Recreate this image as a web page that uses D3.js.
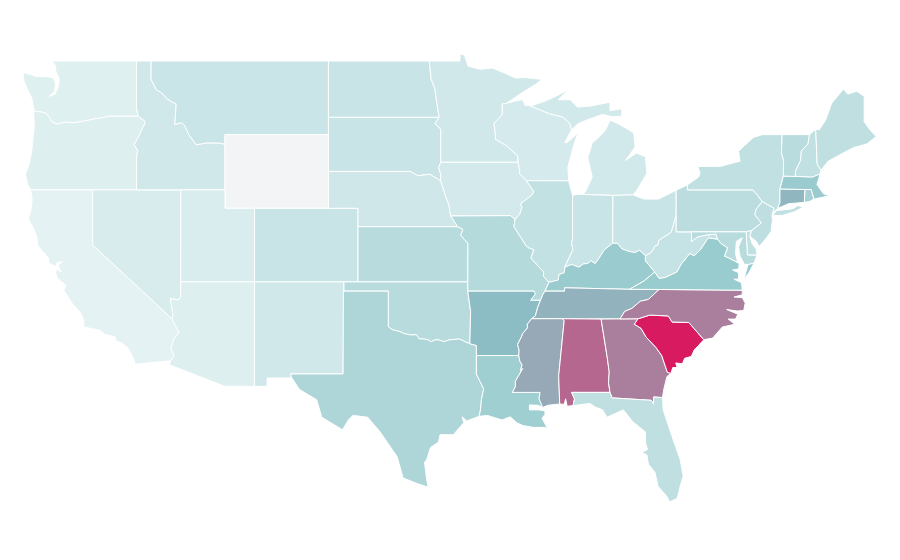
<!DOCTYPE html>
<html>
<head>
<meta charset="utf-8">
<script src="https://cdn.jsdelivr.net/npm/d3@7"></script>
<style>
    html, body { margin: 0; background: #fff; }
</style>
</head>
<body>
<div id="map"></div>
<script>
// state values
const stateIds = ["WA","OR","CA","NV","ID","MT","WY","UT","AZ","CO","NM","ND","SD","NE","KS","OK","TX","MN","IA","MO","AR","LA","WI","IL","MI","IN","OH","KY","TN","MS","AL","GA","FL","SC","NC","VA","WV","PA","NY","NJ","DE","MD","CT","RI","MA","VT","NH","ME"];
const stateValues = [2.4,2.7,1.4,3.9,5.3,6.8,0,3.5,2.7,7,5.5,7.2,7,5.8,10.5,10.5,12.6,5.5,4.9,11.3,23.2,15.5,4.5,8.4,5.1,7,7,17,28,33.3,64,53,9,100,53,16.9,7.8,9.9,8.8,9.3,8.8,10.5,26.6,14.2,17,10.3,8.8,9];

// colour ramp
const colorStops = [0, 1, 20, 100];
const colorRange = ["#f3f4f6", "#e6f3f4", "#8ac4c8", "#d81b60"];

// shared borders, [lon, lat]
const columbia = [[-124,46.27],[-123.4,46.22],[-123.15,46.15],[-122.9,45.9],[-122.78,45.7],[-122.4,45.57],[-121.9,45.68],[-121.2,45.65],[-120.6,45.74],[-119.9,45.85],[-119.3,45.93],[-118.98,46],[-116.92,46]];
const hellsCanyon = [[-116.92,46],[-116.5,45.75],[-116.46,45.6],[-116.7,45.25],[-116.85,44.95],[-117.2,44.45],[-117.03,44.25],[-116.95,44.1],[-117.03,43.85],[-117.03,42]];
const idMontana = [[-116.05,49],[-116.05,48],[-115.7,47.45],[-115.3,47.25],[-114.95,46.93],[-114.35,46.65],[-114.45,45.55],[-114,45.65],[-113.8,45.52],[-113.45,44.95],[-113,44.45],[-112.3,44.55],[-111.5,44.55],[-111.05,44.48]];
const coloradoCa = [[-114.72,32.72],[-114.5,33],[-114.7,33.4],[-114.5,33.9],[-114.15,34.27],[-114.4,34.6],[-114.63,35]];
const coloradoNv = [[-114.63,35],[-114.57,35.2],[-114.75,36.1],[-114.2,36.02],[-114.05,36.2],[-114.05,37]];
const redRiverN = [[-97.23,49],[-97.1,48],[-96.85,47.5],[-96.75,46.9],[-96.56,45.94]];
const sdMinn = [[-96.56,45.94],[-96.85,45.6],[-96.45,45.3],[-96.45,43.5]];
const bigSioux = [[-96.45,43.5],[-96.6,43.2],[-96.45,42.85],[-96.45,42.49]];
const niobrara = [[-96.45,42.49],[-97.2,42.85],[-98,42.77],[-98.5,43],[-104.05,43]];
const missouriIa = [[-96.45,42.49],[-96.3,42.1],[-96.1,41.6],[-95.9,41.2],[-95.85,40.9],[-95.77,40.58]];
const missouriMo = [[-95.77,40.58],[-95.55,40.3],[-95.3,40]];
const missouriKs = [[-95.3,40],[-94.95,39.85],[-95.1,39.55],[-94.85,39.3],[-94.61,39.1]];
const redRiverS = [[-100,34.56],[-99.7,34.4],[-99.2,34.3],[-98.95,34.2],[-98.5,34.12],[-98.1,34.13],[-97.9,33.9],[-97.6,33.9],[-97.3,33.85],[-97.1,33.75],[-96.85,33.85],[-96.6,33.85],[-96.2,33.75],[-95.9,33.85],[-95.5,33.88],[-95.2,33.9],[-94.8,33.75],[-94.48,33.64]];
const sabine = [[-94.04,32],[-93.8,31.6],[-93.55,31.2],[-93.7,30.6],[-93.75,30.1],[-93.85,29.7]];
const stCroix = [[-92,46.7],[-92.29,46.66],[-92.29,46.1],[-92.85,45.6],[-92.75,45],[-92.75,44.75],[-92,44.4],[-91.25,43.85],[-91.22,43.5]];
const missWiIa = [[-91.22,43.5],[-91.1,43],[-91.15,42.9],[-90.65,42.5]];
const missIlIa = [[-90.65,42.5],[-90.15,41.9],[-90.3,41.7],[-91.05,41.25],[-90.95,41.05],[-91.1,40.7],[-91.42,40.38]];
const missIlMo = [[-91.42,40.38],[-91.5,40],[-91.1,39.5],[-90.7,39],[-90.55,38.87],[-90.15,38.75],[-90.35,38.3],[-89.9,37.9],[-89.5,37.55],[-89.5,37.3],[-89.13,36.98]];
const missKyMo = [[-89.13,36.98],[-89.4,36.5]];
const missTnMo = [[-89.4,36.5],[-89.55,36.3],[-89.7,36]];
const missTnAr = [[-89.7,36],[-89.9,35.6],[-90.05,35.15],[-90.3,35]];
const missMsAr = [[-90.3,35],[-90.6,34.7],[-90.58,34.5],[-90.9,34.2],[-91,34],[-91.25,33.6],[-91.15,33.3],[-91.17,33]];
const missMsLa = [[-91.17,33],[-91.1,32.7],[-90.95,32.5],[-91.05,32.2],[-90.9,32.3],[-91.4,31.6],[-91.4,31.3],[-91.6,31]];
const pearl = [[-89.73,31],[-89.8,30.65],[-89.55,30.18]];
const wabash = [[-87.53,41.7],[-87.53,39.35],[-87.6,39.1],[-87.5,38.75],[-87.95,38],[-88.05,37.8]];
const ohioIl = [[-89.13,36.98],[-88.5,37.1],[-88.45,37.4],[-88.1,37.5],[-88.05,37.8]];
const ohioIn = [[-88.05,37.8],[-87.6,37.95],[-87.1,37.8],[-86.8,37.98],[-86.5,38],[-86.3,38.15],[-86,38],[-85.75,38.27],[-85.4,38.73],[-84.82,39.1]];
const ohioOh = [[-84.82,39.1],[-84.5,39.1],[-84.2,38.8],[-83.7,38.65],[-83.3,38.6],[-83,38.72],[-82.6,38.42]];
const ohioWv = [[-82.6,38.42],[-82.2,38.6],[-81.95,38.95],[-81.75,39],[-81.7,39.25],[-80.85,39.7],[-80.6,40.4],[-80.52,40.64]];
const kyWv = [[-82.6,38.42],[-82.6,38.15],[-81.97,37.54]];
const kyVa = [[-81.97,37.54],[-82.7,37.05],[-83.68,36.6]];
const tnKy = [[-83.68,36.6],[-88.07,36.68],[-88.07,36.5],[-89.4,36.5]];
const vaWv = [[-81.97,37.54],[-81.68,37.2],[-81.25,37.25],[-80.47,37.55],[-80.2,37.95],[-79.6,38.55],[-79.3,38.42],[-78.87,38.77],[-78.35,39.4],[-77.72,39.32]];
const potomacUp = [[-79.48,39.2],[-79.05,39.45],[-78.45,39.55],[-77.83,39.6],[-77.72,39.32]];
const potomacLow = [[-77.72,39.32],[-77.5,39.1],[-77.04,38.85],[-77.25,38.4],[-76.95,38.3]];
const tnNc = [[-84.32,34.99],[-84,35.4],[-83.5,35.57],[-82.95,35.95],[-82.4,36.05],[-81.68,36.59]];
const ncSc = [[-83.1,35],[-82.3,35.2],[-81.05,35.15],[-80.8,34.82],[-79.67,34.8],[-78.65,33.86]];
const savannah = [[-83.1,35],[-83.35,34.7],[-82.9,34.48],[-82.55,34],[-81.9,33.45],[-81.5,33],[-81.12,32.1],[-80.88,32.03]];
const chattahoochee = [[-85.6,34.98],[-85.18,32.87],[-85.05,32.1],[-85.1,31.55],[-85,31]];
const stMarys = [[-84.86,30.7],[-82.2,30.57],[-82.05,30.36],[-82.05,30.75],[-81.45,30.72]];
const delaware = [[-74.7,41.36],[-75.1,40.95],[-75.2,40.65],[-74.75,40.2],[-75.4,39.8]];
const nyPenn = [[-79.76,42],[-75.35,42],[-75.05,41.75],[-74.7,41.36]];
const nhVt = [[-71.5,45],[-71.6,44.5],[-72.05,44.1],[-72.1,43.6],[-72.45,43],[-72.45,42.73]];

// lake and sea shores
const waSound = [[-122.76,49],[-122.52,48.75],[-122.5,48.45],[-122.25,48],[-122.35,47.55],[-122.55,47.2],[-122.95,47.08],[-122.6,47.35],[-122.5,47.75],[-122.7,48.1],[-123.2,48.15],[-123.9,48.17],[-124.25,48.28],[-124.72,48.38],[-124.65,47.9],[-124.35,47.35],[-124.1,46.95],[-124.05,46.65],[-123.95,46.3]];
const orCoast = [[-124.2,42],[-124.4,42.3],[-124.55,42.85],[-124.3,43.4],[-124.15,44],[-124.05,44.7],[-123.95,45.5],[-124,46.27]];
const caCoast = [[-124.2,42],[-124.1,41.5],[-124.15,41],[-124.35,40.4],[-124.05,40],[-123.8,39.5],[-123.7,38.95],[-123,38.3],[-122.95,38],[-122.5,37.85],[-122.4,38.05],[-122.05,38.1],[-122.35,37.9],[-122.15,37.55],[-122.45,37.7],[-122.5,37.5],[-122.4,37.2],[-122,36.95],[-121.8,36.8],[-121.95,36.55],[-121.4,35.85],[-120.85,35.35],[-120.6,34.9],[-120.6,34.55],[-119.5,34.38],[-119.2,34.15],[-118.5,34.03],[-118.4,33.75],[-118.1,33.72],[-117.6,33.4],[-117.25,32.85],[-117.12,32.53]];
const superiorMn = [[-95.15,49],[-95.15,49.38],[-94.85,49.32],[-94.6,48.72],[-93.8,48.55],[-92.95,48.62],[-92,48.3],[-91.4,48.07],[-90.75,48.1],[-89.6,48],[-90,47.75],[-91,47.25],[-92,46.7]];
const wiShore = [[-92,46.7],[-91.2,46.87],[-90.9,46.9],[-90.75,46.6],[-90.42,46.57]];
const wiUp = [[-90.42,46.57],[-89.1,46.14],[-88.2,45.96],[-87.7,45.6],[-87.6,45.25]];
const wiLake = [[-87.6,45.25],[-87.85,44.9],[-88.05,44.55],[-87.85,44.6],[-87.15,45.1],[-87.3,44.8],[-87.55,44.15],[-87.85,43.25],[-87.8,42.49]];
const upShore = [[-90.42,46.57],[-90.2,46.6],[-89.3,46.85],[-88.5,47.15],[-87.8,47.45],[-88.5,46.9],[-87.7,46.9],[-87.2,46.5],[-86.3,46.55],[-85.4,46.7],[-85,46.75],[-85,46.3],[-84.2,46.4],[-84.2,46],[-84.9,45.98],[-85.5,46.1],[-86.55,45.8],[-87.15,45.6],[-87.6,45.25]];
const lowerMi = [[-86.8,41.76],[-84.8,41.7],[-83.45,41.73],[-83.2,41.95],[-82.5,42.9],[-82.6,43.8],[-83.2,44],[-83.95,43.6],[-83.3,44.33],[-83.4,45.1],[-84.45,45.6],[-85,45.78],[-85.3,45.25],[-85.7,44.9],[-86.2,44.55],[-86.5,43.75],[-86.2,42.7],[-86.6,42]];
const ncCoast = [[-78.65,33.86],[-78.05,33.95],[-77.4,34.55],[-76.55,34.7],[-77,34.98],[-76.5,34.98],[-76.35,35.25],[-77.1,35.5],[-76.4,35.42],[-75.95,35.45],[-75.85,35.85],[-76.05,36.15],[-76.6,36.18],[-76.05,36.3],[-76.05,36.55]];
const scCoast = [[-80.88,32.03],[-80.75,32.35],[-80.45,32.35],[-80.55,32.6],[-80.1,32.55],[-79.95,32.85],[-79.5,32.95],[-79.3,33.3],[-78.65,33.86]];
const gaCoast = [[-81.45,30.72],[-81.35,31.2],[-81.15,31.85],[-80.88,32.03]];
const flCoast = [[-81.45,30.72],[-81.4,30.05],[-80.8,28.6],[-80.25,27.35],[-80.05,26.45],[-80.25,25.9],[-80.45,25.25],[-80.95,25.05],[-81.2,25.4],[-81.75,25.9],[-81.95,26.65],[-82.4,27.1],[-82.5,27.6],[-82.85,27.75],[-82.45,27.9],[-82.6,28.25],[-82.6,28.85],[-83.45,29.4],[-84.1,30.05],[-84.65,29.85],[-85.2,29.65],[-85.5,30.05],[-86,30.2],[-86.35,30.4],[-87.5,30.28]];
const laCoast = [[-89.55,30.18],[-89.85,30.3],[-90.45,30.32],[-90.45,30.05],[-89.85,30.05],[-89.4,30],[-89.4,29.8],[-89.6,29.6],[-89.2,29],[-89.4,29.1],[-90.2,29.1],[-90.9,29.2],[-91.3,29.35],[-91.75,29.67],[-92.3,29.5],[-93.3,29.75],[-93.85,29.7]];
const txCoast = [[-93.85,29.7],[-94.7,29.45],[-95,29.67],[-94.9,29.35],[-95.6,28.7],[-96.5,28.7],[-96.6,28.3],[-97.15,28],[-97.4,27.35],[-97.55,27.2],[-97.4,26.25],[-97.3,25.85]];
const rioGrande = [[-97.3,25.85],[-98.05,26.05],[-99,26.35],[-99.4,27.5],[-100.55,28.85],[-101.4,29.65],[-102.4,29.75],[-102.7,29.5],[-103.1,28.97],[-104.5,29.65],[-104.85,30.6],[-106,31.15],[-106.53,31.78]];
const vaShore = [[-76.05,36.55],[-76.1,36.95],[-76.6,37.15],[-76.3,37.15],[-76.3,37.5],[-76.7,37.65],[-76.3,37.7],[-76.25,38],[-76.95,38.3]];
const chesapeake = [[-75.25,38.03],[-75.65,37.95],[-75.9,37.95],[-76.2,38.4],[-76.3,38.9],[-76.05,39.4],[-76.45,39.2],[-76.5,38.5],[-76.35,38.05],[-76.95,38.3]];
const njCoast = [[-73.9,41],[-74.05,40.6],[-74,40.4],[-74.1,39.75],[-74.4,39.4],[-74.9,38.93],[-75.1,39.2],[-75.55,39.5]];
const deBay = [[-75.55,39.5],[-75.4,39.1],[-75.1,38.78],[-75.05,38.45]];
const ctCoast = [[-73.65,41],[-72.9,41.25],[-71.85,41.32]];
const meCoast = [[-70.72,43.07],[-70.25,43.55],[-69.8,43.75],[-69,44.1],[-68.5,44.3],[-67.6,44.5],[-67,44.9],[-67.45,45.3],[-67.8,45.7],[-67.8,47.07],[-68.3,47.36],[-68.9,47.2],[-69.22,47.46],[-70,46.7],[-70.4,45.8],[-70.85,45.25],[-71.08,45.3]];
const maCoast = [[-70.8,42.87],[-70.85,42.65],[-71,42.3],[-70.7,41.95],[-70.55,41.78],[-70.1,41.72],[-70.6,41.6],[-71.2,41.5]];

const rev = a => a.slice().reverse();
const ring = (...parts) => [].concat(...parts);

// one list of rings per state, same order as stateIds
const stateRings = [
    [ring([[-117.04,49]], waSound, columbia, [[-116.98,46.2],[-117.04,46.42]])],
    [ring(columbia, hellsCanyon, orCoast)],
    [ring([[-120,42],[-120,39]], [[-114.63,35]], rev(coloradoCa), [[-117.12,32.53]], rev(caCoast))],
    [ring([[-120,42],[-114.04,42]], rev(coloradoNv), [[-120,39]])],
    [ring([[-117.04,49]], idMontana, [[-111.05,42],[-117.03,42]], rev(hellsCanyon), [[-116.98,46.2],[-117.04,46.42]])],
    [ring(idMontana, [[-111.05,45],[-104.05,45],[-104.05,49]])],
    [[[-111.05,45],[-104.05,45],[-104.05,41],[-111.05,41]]],
    [[[-114.04,42],[-111.05,42],[-111.05,41],[-109.05,41],[-109.05,37],[-114.05,37]]],
    [ring([[-114.05,37],[-109.05,37],[-109.05,31.33],[-111.07,31.33],[-114.81,32.5]], coloradoCa, coloradoNv)],
    [[[-109.05,41],[-102.05,41],[-102.05,37],[-109.05,37]]],
    [[[-109.05,37],[-103,37],[-103.06,32],[-106.62,32],[-106.53,31.78],[-108.2,31.78],[-108.2,31.33],[-109.05,31.33]]],
    [ring([[-104.05,49]], redRiverN, [[-104.05,45.94]])],
    [ring([[-104.05,45.94]], sdMinn, bigSioux, niobrara)],
    [ring(rev(niobrara), missouriIa, missouriMo, [[-102.05,40],[-102.05,41],[-104.05,41]])],
    [ring([[-102.05,40]], missouriKs, [[-94.62,37],[-102.05,37]])],
    [ring([[-103,37],[-94.62,37],[-94.62,36.5],[-94.43,35.4]], rev(redRiverS), [[-100,36.5],[-103,36.5]])],
    [ring([[-103.04,36.5],[-100,36.5]], redRiverS, [[-94.04,33.55],[-94.04,33]], sabine, txCoast, rioGrande, [[-106.62,32],[-103.06,32]])],
    [ring(redRiverN, sdMinn, [[-91.22,43.5]], rev(stCroix), rev(superiorMn))],
    [ring([[-96.45,43.5],[-91.22,43.5]], missWiIa, missIlIa, [[-91.73,40.6],[-95.77,40.58]], rev(missouriIa), rev(bigSioux))],
    [ring([[-95.77,40.58],[-91.73,40.6]], missIlMo, missKyMo, missTnMo, [[-90.37,36],[-90.05,36.35],[-90.15,36.5],[-94.62,36.5],[-94.61,39.1]], rev(missouriKs), rev(missouriMo))],
    [ring([[-94.62,36.5],[-90.15,36.5],[-90.05,36.35],[-90.37,36],[-89.7,36]], missTnAr, missMsAr, [[-94.04,33],[-94.04,33.55],[-94.48,33.64],[-94.43,35.4]])],
    [ring([[-94.04,33]], missMsLa, pearl, laCoast, rev(sabine))],
    [ring(stCroix, missWiIa, [[-87.8,42.49]], rev(wiLake), rev(wiUp), rev(wiShore))],
    [ring([[-87.8,42.49],[-90.65,42.5]], missIlIa, missIlMo, ohioIl, rev(wabash))],
    [upShore.concat(rev(wiUp).slice(1, -1)), lowerMi],
    [ring([[-87.53,41.7],[-87.2,41.76],[-84.8,41.7]], rev(ohioIn), rev(wabash))],
    [ring([[-84.8,41.7],[-83.45,41.73],[-82.7,41.5],[-81.7,41.5],[-80.52,41.98]], rev(ohioWv), rev(ohioOh))],
    [ring(ohioIl, ohioIn, ohioOh, kyWv, kyVa, tnKy, rev(missKyMo))],
    [ring([[-90.3,35]], [[-84.32,34.99]], tnNc, [[-83.68,36.6]], tnKy, missTnMo, missTnAr)],
    [ring([[-90.3,35],[-88.2,35],[-88.1,34.9],[-88.47,31.9],[-88.4,30.37],[-89.2,30.3]], rev(pearl), rev(missMsLa), rev(missMsAr))],
    [ring([[-88.2,35]], chattahoochee, [[-87.6,31],[-87.4,30.65],[-87.5,30.28],[-87.9,30.25],[-88,30.65],[-88.1,30.35],[-88.4,30.37],[-88.47,31.9],[-88.1,34.9]])],
    [ring(chattahoochee, [[-84.86,30.7]], stMarys.slice(1), gaCoast, rev(savannah), [[-84.32,34.99]])],
    [ring([[-87.6,31],[-85,31]], stMarys, flCoast, [[-87.4,30.65]])],
    [ring(ncSc, rev(scCoast), rev(savannah))],
    [ring([[-84.32,34.99]], [[-83.1,35]], ncSc, ncCoast, [[-81.68,36.59]], rev(tnNc))],
    [ring([[-83.68,36.6],[-81.68,36.59]], vaShore, rev(potomacLow), rev(vaWv), kyVa),
     [[-75.95,37.15],[-75.65,37.95],[-75.25,38.03],[-75.6,37.5]]],
    [ring(ohioWv, [[-80.52,39.72],[-79.48,39.72]], potomacUp, rev(vaWv), rev(kyWv))],
    [ring([[-80.52,41.98],[-79.76,42.27]], nyPenn, delaware, [[-75.79,39.72],[-80.52,39.72]])],
    [ring([[-79.76,42.27],[-79,42.7],[-78.9,42.9],[-79.05,43.27],[-77.5,43.28],[-76.5,43.5],[-76.2,43.55],[-76.3,44.1],[-75.3,44.85],[-74.7,45],[-73.35,45],[-73.4,44],[-73.25,43.6],[-73.27,42.75],[-73.5,42.05],[-73.5,41.3],[-73.65,41],[-73.95,40.75],[-73.9,41]], rev(nyPenn)),
     [[-74,40.6],[-73.75,40.87],[-72.6,40.98],[-72.3,41.15],[-71.9,41.07],[-72.5,40.82],[-73.3,40.62]]],
    [ring([[-74.7,41.36]], njCoast, [[-75.4,39.8]], rev(delaware).slice(1))],
    [ring([[-75.79,39.72],[-75.4,39.8],[-75.55,39.5]], deBay.slice(1), [[-75.7,38.46]])],
    [ring([[-79.48,39.72],[-75.79,39.72],[-75.7,38.46],[-75.05,38.45]], chesapeake, rev(potomacLow), rev(potomacUp))],
    [ring([[-73.5,42.05],[-71.8,42.02]], rev(ctCoast), [[-73.5,41.3]])],
    [[[-71.8,42.02],[-71.38,42.02],[-71.2,41.5],[-71.5,41.37],[-71.85,41.32]]],
    [ring([[-73.27,42.75],[-72.45,42.73],[-71.3,42.7]], maCoast, [[-71.38,42.02],[-71.8,42.02],[-73.5,42.05]])],
    [ring([[-73.35,45]], nhVt, [[-73.27,42.75],[-73.25,43.6],[-73.4,44]])],
    [ring(nhVt, [[-71.3,42.7],[-70.8,42.87],[-70.72,43.07],[-70.98,43.4],[-71.08,45.3]])],
    [ring(meCoast, [[-70.98,43.4]])]
];

const width = 900;
const height = 560;

// the map is a plain lon/lat grid, the 49th parallel runs flat
const x = d3.scaleLinear().domain([-111.05, -67]).range([225, 876]);
const y = d3.scaleLinear().domain([49, 25.1]).range([61, 501]);

const color = d3.scaleLinear().domain(colorStops).range(colorRange);

const path = d3.geoPath(d3.geoTransform({
    point(lon, lat) { this.stream.point(x(lon), y(lat)); }
}));

const features = stateIds.map((id, i) => ({
    type: "Feature",
    properties: { id, value: stateValues[i] },
    geometry: {
        type: "MultiPolygon",
        coordinates: stateRings[i].map(r => [r.concat([r[0]])])
    }
}));

const svg = d3.select("#map").append("svg")
    .attr("width", width)
    .attr("height", height)
    .style("display", "block");

svg.append("g")
    .selectAll("path")
    .data(features)
    .join("path")
    .attr("d", path)
    .attr("fill", d => color(d.properties.value))
    .attr("stroke", "#fff")
    .attr("stroke-width", 1)
    .attr("stroke-linejoin", "round")
    .append("title")
    .text(d => `${d.properties.id}: ${d.properties.value}`);
</script>
</body>
</html>
